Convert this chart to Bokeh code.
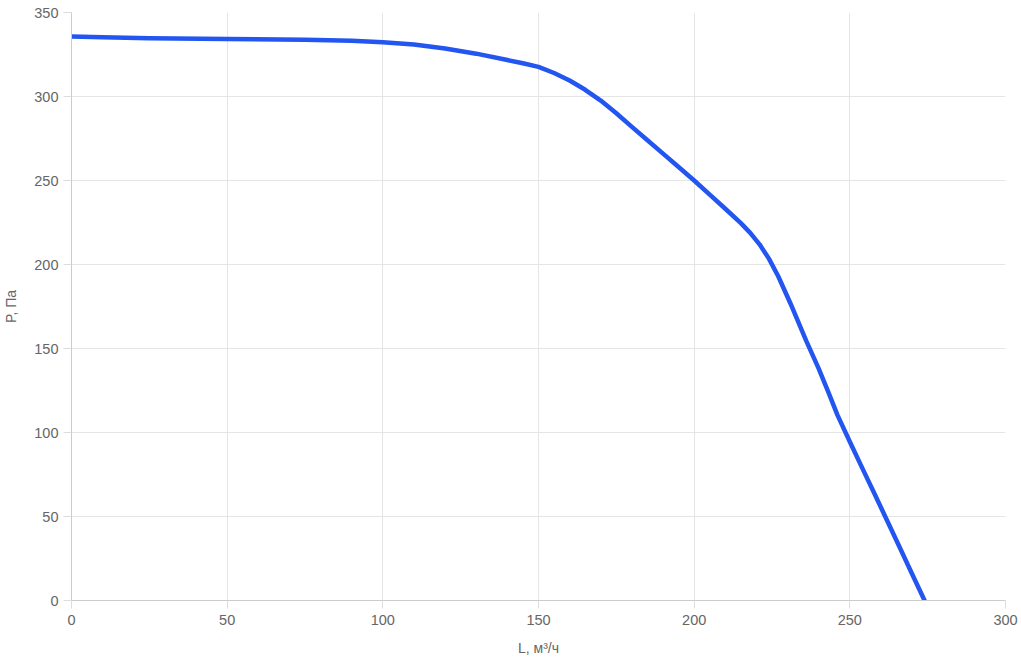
from bokeh.plotting import figure
from bokeh.models import Range1d, SingleIntervalTicker
from bokeh.embed import file_html
from bokeh.resources import INLINE

L = [0, 10, 25, 50, 75, 90, 100, 110, 120, 130, 140, 145, 150, 155, 160, 165, 170, 175, 180, 185,
     190, 195, 200, 205, 210, 215, 218, 221, 224, 227, 231, 236, 240, 243, 246, 250, 254, 258, 262, 266, 270, 274]
P = [335.7, 335.2, 334.7, 334.3, 333.8, 333.2, 332.3, 330.9, 328.6, 325.5, 321.7, 319.8, 317.6, 314.0, 309.5, 304.0, 297.6, 290.0, 281.9, 274.0,
     266.0, 258.0, 250.0, 241.6, 233.2, 224.6, 218.8, 212.0, 203.5, 193.0, 176.5, 154.5, 138.0, 124.5, 110.5, 94.5, 78.8, 63.2, 47.5, 31.7, 15.8, 0]

x_label = "L, м³/ч"
y_label = "P, Па"

p = figure(width=1021, height=664, output_backend="svg", toolbar_location=None,
           x_range=Range1d(0, 300), y_range=Range1d(0, 350),
           min_border_left=70, min_border_right=16, min_border_top=12, min_border_bottom=64)
p.outline_line_color = None
p.background_fill_color = "white"
p.border_fill_color = "white"

p.line(L, P, line_color="#2355f0", line_width=4.5, line_join="round", line_cap="round")

for ax in (p.xaxis[0], p.yaxis[0]):
    ax.ticker = SingleIntervalTicker(interval=50)
    ax.axis_line_color = "#cccccc"
    ax.axis_line_width = 1
    ax.major_tick_line_color = "#dddddd"
    ax.major_tick_out = 8
    ax.major_tick_in = 0
    ax.minor_tick_line_color = None
    ax.major_label_text_font = "Liberation Sans"
    ax.major_label_text_font_size = "14.5px"
    ax.major_label_text_color = "#666666"
    ax.axis_label_text_font = "Liberation Sans"
    ax.axis_label_text_font_size = "14px"
    ax.axis_label_text_color = "#666666"
    ax.axis_label_text_font_style = "normal"

p.xaxis.axis_label = x_label
p.yaxis.axis_label = y_label
p.xaxis.major_label_standoff = 6
p.yaxis.major_label_standoff = 5
p.xaxis.axis_label_standoff = 12
p.yaxis.axis_label_standoff = 12

p.xgrid.ticker = SingleIntervalTicker(interval=50)
p.ygrid.ticker = SingleIntervalTicker(interval=50)
p.grid.grid_line_color = "#e5e5e5"
p.grid.grid_line_width = 1

open("out.html", "w").write(file_html(p, INLINE))
